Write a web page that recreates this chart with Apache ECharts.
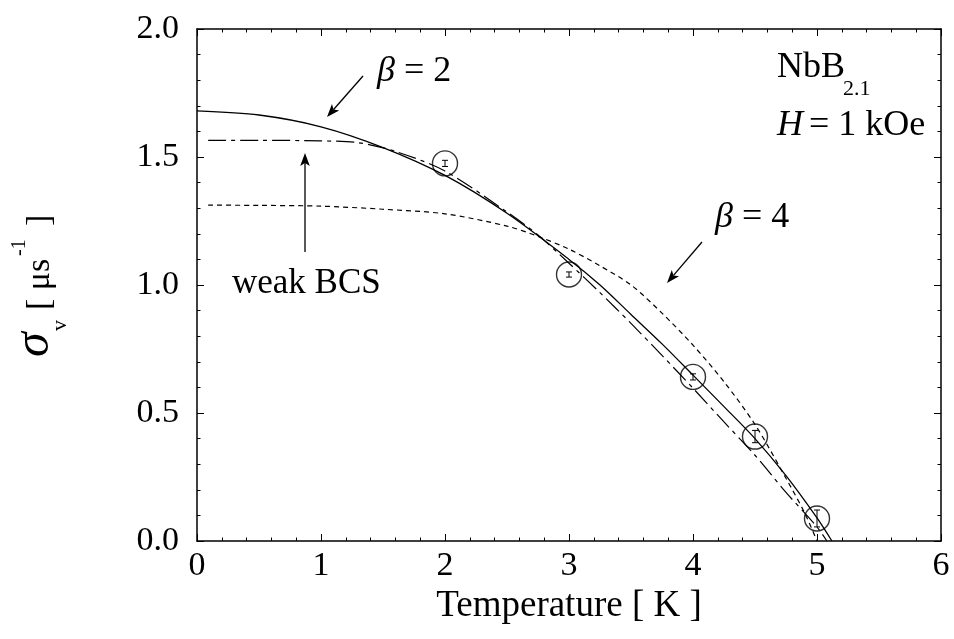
<!DOCTYPE html>
<html><head><meta charset="utf-8">
<script src="https://cdn.jsdelivr.net/npm/echarts@6/dist/echarts.min.js"></script>
<style>html,body{margin:0;padding:0;background:#fff}#c{width:954px;height:639px}</style>
</head><body><div id="c"></div><script>
const FONT = "'Liberation Serif', 'Times New Roman', serif";
const SP = '\u00a0';

// measured points
const dataT = [2, 3, 4, 4.5, 5];
const dataSigma = [1.475, 1.041, 0.641, 0.408, 0.088];
const dataErr = [0.012, 0.010, 0.012, 0.024, 0.033];

// beta = 2 fit (solid)
const beta2T = [0, 0.5, 1.0, 1.5, 2.0, 2.5, 3.0, 3.25, 3.5, 3.75, 4.0, 4.25, 4.5, 4.75, 5.0, 5.12];
const beta2S = [1.68, 1.664, 1.618, 1.537, 1.428, 1.28, 1.10, 1.00, 0.885, 0.77, 0.648, 0.525, 0.40, 0.255, 0.09, 0.0];

// weak-coupling BCS (dash-dot)
const bcsT = [0.09, 0.5, 1.0, 1.3, 1.6, 2.0, 2.5, 2.75, 3.0, 3.25, 3.5, 3.75, 4.0, 4.25, 4.5, 4.75, 5.0, 5.08];
const bcsS = [1.565, 1.565, 1.563, 1.556, 1.522, 1.445, 1.285, 1.195, 1.085, 0.97, 0.85, 0.725, 0.597, 0.465, 0.335, 0.19, 0.055, 0.0];

// beta = 4 fit (short dash)
const beta4T = [0.09, 0.5, 1.0, 1.5, 2.0, 2.5, 2.75, 3.0, 3.25, 3.5, 3.75, 4.0, 4.25, 4.5, 4.75, 4.9, 5.0];
const beta4S = [1.312, 1.311, 1.308, 1.296, 1.278, 1.23, 1.19, 1.14, 1.075, 1.00, 0.89, 0.765, 0.622, 0.455, 0.245, 0.11, 0.0];

// axis settings
const xMin = 0, xMax = 6, xStep = 1;
const yMin = 0, yMax = 2, yStep = 0.5;

const pair = (xs, ys) => xs.map((x, i) => [x, ys[i]]);
const nb = s => s.replace(/ /g, SP);

function txt(str, x, baseline, size, italic) {
  return {type: 'text', x: x, y: baseline - 0.34 * size,
    style: {text: nb(str), fontSize: size, fontFamily: FONT, fontStyle: italic ? 'italic' : 'normal',
      fill: '#000', align: 'left', verticalAlign: 'middle'}};
}
function arrow(x1, y1, x2, y2) {
  const L = 13, W = 4.8;
  const dx = x2 - x1, dy = y2 - y1, d = Math.hypot(dx, dy), ux = dx / d, uy = dy / d;
  const bx = x2 - ux * L, by = y2 - uy * L;
  return [
    {type: 'line', shape: {x1: x1, y1: y1, x2: bx + ux * 3, y2: by + uy * 3}, style: {stroke: '#000', lineWidth: 1.3}},
    {type: 'polygon', shape: {points: [[x2, y2], [bx - uy * W, by + ux * W], [bx + ux * 3, by + uy * 3], [bx + uy * W, by - ux * W]]},
      style: {fill: '#000'}}
  ];
}

const tickCommon = {
  axisLine: {show: true, onZero: false, lineStyle: {color: '#000', width: 1.5}},
  axisTick: {show: true, inside: true, length: 7, lineStyle: {color: '#000', width: 1}},
  minorTick: {show: true, splitNumber: 5, length: 3.5, lineStyle: {color: '#000', width: 1}},
  splitLine: {show: false}
};

const chart = echarts.init(document.getElementById('c'), null, {renderer: 'canvas'});
chart.setOption({
  animation: false,
  backgroundColor: '#fff',
  grid: {left: 197, right: 13, top: 29, bottom: 98},
  xAxis: [
    Object.assign({type: 'value', position: 'bottom', min: xMin, max: xMax, interval: xStep,
      name: nb('Temperature [ K ]'), nameLocation: 'middle', nameGap: 24,
      nameTextStyle: {fontFamily: FONT, fontSize: 37, color: '#000'},
      axisLabel: {margin: 8, fontFamily: FONT, fontSize: 34, color: '#000'}}, tickCommon),
    Object.assign({type: 'value', position: 'top', min: xMin, max: xMax, interval: xStep,
      axisLabel: {show: false}}, tickCommon)
  ],
  yAxis: [
    Object.assign({type: 'value', position: 'left', min: yMin, max: yMax, interval: yStep,
      axisLabel: {margin: 18, fontFamily: FONT, fontSize: 34, color: '#000',
        formatter: v => v.toFixed(1)}}, tickCommon),
    Object.assign({type: 'value', position: 'right', min: yMin, max: yMax, interval: yStep,
      axisLabel: {show: false}}, tickCommon)
  ],
  series: [
    {type: 'line', name: 'beta2', data: pair(beta2T, beta2S), smooth: 0.3,
      showSymbol: false, lineStyle: {color: '#000', width: 1.3, type: 'solid'}},
    {type: 'line', name: 'bcs', data: pair(bcsT, bcsS), smooth: 0.3,
      showSymbol: false, lineStyle: {color: '#000', width: 1.2, type: [18, 5, 4, 5]}},
    {type: 'line', name: 'beta4', data: pair(beta4T, beta4S), smooth: 0.3,
      showSymbol: false, lineStyle: {color: '#000', width: 1.2, type: [5, 4]}},
    {type: 'custom', name: 'err',
      data: dataT.map((t, i) => [t, dataSigma[i] - dataErr[i], dataSigma[i] + dataErr[i]]),
      renderItem: function (params, api) {
        const lo = api.coord([api.value(0), api.value(1)]);
        const hi = api.coord([api.value(0), api.value(2)]);
        const w = 3;
        return {type: 'group', children: [
          {type: 'line', shape: {x1: lo[0], y1: lo[1], x2: hi[0], y2: hi[1]}, style: {stroke: '#000', lineWidth: 1}},
          {type: 'line', shape: {x1: lo[0] - w, y1: lo[1], x2: lo[0] + w, y2: lo[1]}, style: {stroke: '#000', lineWidth: 1}},
          {type: 'line', shape: {x1: hi[0] - w, y1: hi[1], x2: hi[0] + w, y2: hi[1]}, style: {stroke: '#000', lineWidth: 1}}
        ]};
      }, z: 3},
    {type: 'scatter', name: 'data', data: pair(dataT, dataSigma), symbol: 'circle', symbolSize: 25,
      itemStyle: {color: 'rgba(0,0,0,0)', borderColor: '#000', borderWidth: 1.4}, z: 4}
  ],
  graphic: [].concat(
    [
      {type: 'group', x: 52, y: 357, rotation: Math.PI / 2, children: [
        txt('σ', 0, 0, 50, true),
        txt('v', 26, 16, 22, false),
        txt('[ μs', 47, 0, 34, false),
        txt('-1', 101, -25, 20, false),
        txt(']', 131, 0, 34, false)
      ]},
      txt('β', 377, 84, 36, true),
      txt('= 2', 404, 84, 36, false),
      txt('β', 715, 230, 36, true),
      txt('= 4', 742, 230, 36, false),
      txt('weak BCS', 232, 296, 35, false),
      txt('NbB', 777, 80, 36, false),
      txt('2.1', 843, 97, 22, false),
      txt('H', 777, 138, 36, true),
      txt(' = 1 kOe', 800, 138, 36, false)
    ],
    arrow(363, 76, 327, 117),
    arrow(305, 252, 305, 153),
    arrow(702, 242, 667, 283)
  )
});
</script></body></html>
